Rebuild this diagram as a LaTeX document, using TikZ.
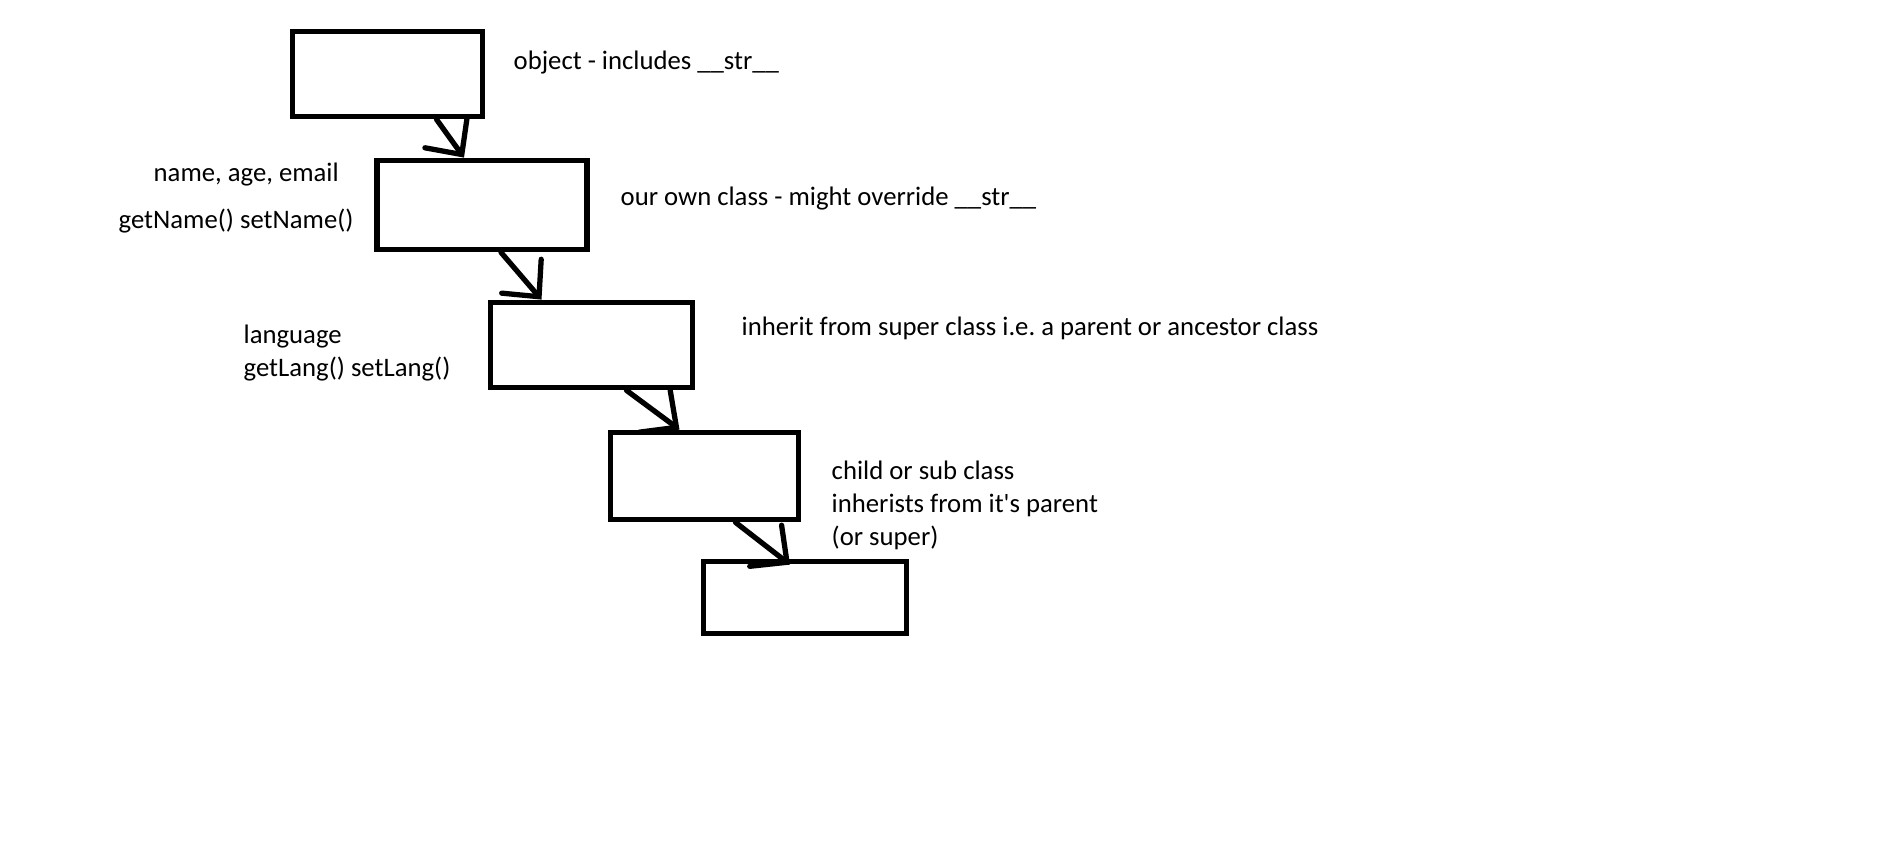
\documentclass[tikz,border=0pt]{standalone}
\usepackage{fontspec}
\setmainfont{Carlito}
\usetikzlibrary{arrows.meta}
\frenchspacing

\begin{document}
\begin{tikzpicture}[
    classbox/.style={draw, line width=1.5pt, inner sep=0pt},
    link/.style={line width=1.5pt, line cap=round,
      -{Straight Barb[length=0.27cm, width=0.52cm, line cap=round]}},
    note/.style={anchor=west, inner sep=0pt, align=left,
      font=\fontsize{7.6}{9.4}\selectfont}
  ]
    \useasboundingbox (0, 0) rectangle (19.03, 8.6);

    \node[classbox, minimum width=1.9cm, minimum height=0.855cm] (b1) at (3.875, 7.86) {};
    \node[classbox, minimum width=2.1cm, minimum height=0.895cm] (b2) at (4.82, 6.55) {};
    \node[classbox, minimum width=2.025cm, minimum height=0.855cm] (b3) at (5.915, 5.15) {};
    \node[classbox, minimum width=1.885cm, minimum height=0.875cm] (b4) at (7.045, 3.84) {};
    \node[classbox, minimum width=2.035cm, minimum height=0.725cm] (b5) at (8.05, 2.625) {};

    \draw[link] ([xshift=0.49cm]b1.south) -- ([xshift=-0.18cm]b2.north);
    \draw[link] ([xshift=0.19cm]b2.south) -- ([xshift=-0.5cm]b3.north);
    \draw[link] ([xshift=0.35cm]b3.south) -- ([xshift=-0.25cm]b4.north);
    \draw[link] ([xshift=0.31cm]b4.south) -- ([xshift=-0.15cm, yshift=-0.06cm]b5.north);

    \node[note] (object) at (5.13, 7.97) {object - includes \_\_str\_\_};
    \node[note] (own) at (6.2, 6.61) {our own class - might override \_\_str\_\_};
    \node[note] (super) at (7.41, 5.32) {inherit from super class i.e. a parent or ancestor class};
    \node[note] (child) at (8.31, 3.55)
      {child or sub class\\inherists from it\textquotesingle s parent\\(or super)};

    \node[note] (fields) at (1.53, 6.85) {name, age, email};
    \node[note] (methods) at (1.18, 6.39) {getName() setName()};
    \node[note] (lang) at (2.43, 5.07) {language\\getLang() setLang()};
  \end{tikzpicture}
\end{document}
